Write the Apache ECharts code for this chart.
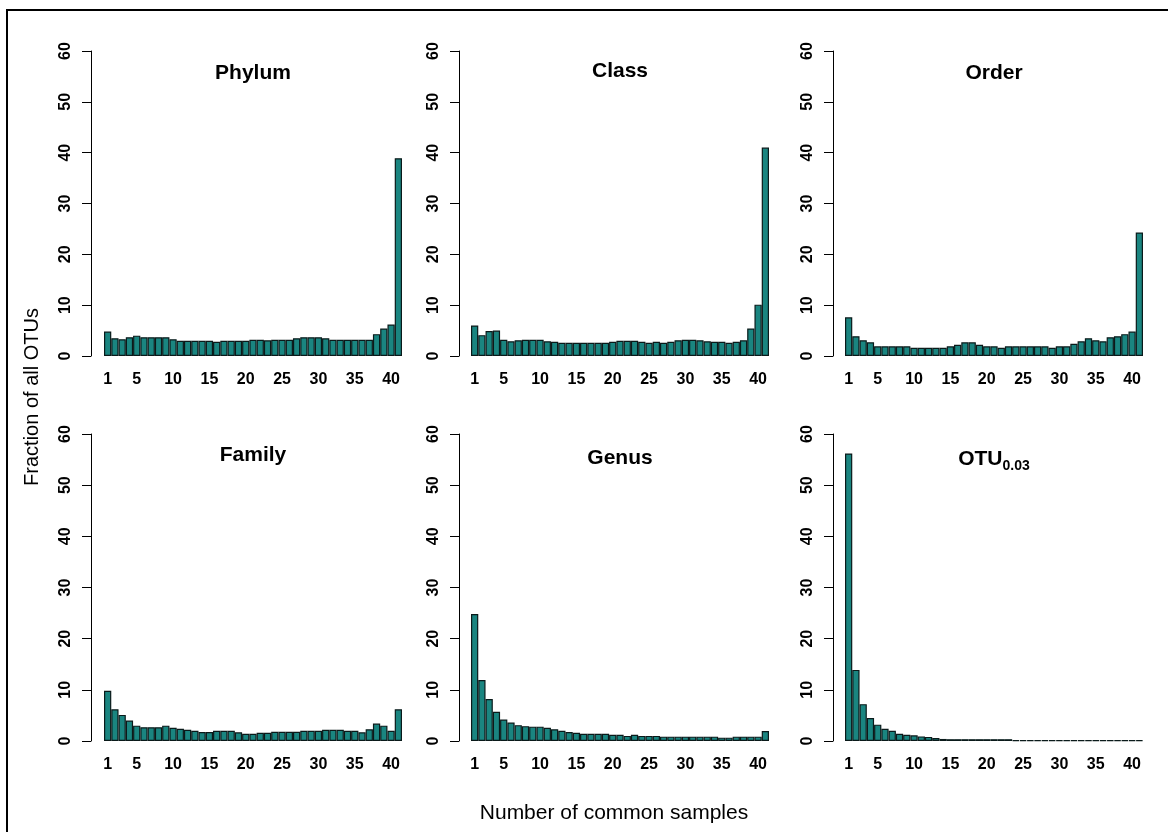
<!DOCTYPE html>
<html><head><meta charset="utf-8">
<script src="https://cdn.jsdelivr.net/npm/echarts@6/dist/echarts.min.js"></script>
<style>html,body{margin:0;padding:0;background:#fff}#c{width:1168px;height:832px}</style>
</head><body><div id="c"></div>
<script>
const categories = ['1','2','3','4','5','6','7','8','9','10','11','12','13','14','15','16','17','18','19','20',
  '21','22','23','24','25','26','27','28','29','30','31','32','33','34','35','36','37','38','39','40','41'];
const tickLabels = ['1','5','10','15','20','25','30','35','40'];
const yMin = 0, yMax = 60, yStep = 10;

const phylum = [4.8,3.5,3.3,3.7,4.0,3.7,3.7,3.7,3.7,3.3,3.0,3.0,3.0,3.0,3.0,2.8,3.0,3.0,3.0,3.0,
  3.2,3.2,3.1,3.2,3.2,3.2,3.5,3.7,3.7,3.7,3.5,3.2,3.2,3.2,3.2,3.2,3.2,4.3,5.4,6.2,38.9];
const classV = [6.0,4.1,4.9,5.0,3.2,2.9,3.1,3.2,3.2,3.2,2.9,2.8,2.6,2.6,2.6,2.6,2.6,2.6,2.6,2.8,
  3.0,3.0,3.0,2.8,2.6,2.8,2.6,2.8,3.1,3.2,3.2,3.1,2.9,2.8,2.8,2.6,2.8,3.1,5.4,10.1,41.0];
const order = [7.6,3.9,3.1,2.7,1.9,1.9,1.9,1.9,1.9,1.6,1.6,1.6,1.6,1.6,1.9,2.2,2.7,2.7,2.2,1.9,
  1.9,1.6,1.9,1.9,1.9,1.9,1.9,1.9,1.6,1.9,1.9,2.4,2.9,3.5,3.1,2.9,3.7,3.9,4.3,4.8,24.3];
const family = [9.8,6.2,5.1,4.0,3.0,2.7,2.7,2.7,3.0,2.6,2.4,2.2,2.0,1.75,1.75,2.0,2.0,2.0,1.7,1.4,
  1.4,1.6,1.6,1.8,1.8,1.8,1.8,2.0,2.0,2.0,2.2,2.2,2.2,2.0,2.0,1.7,2.3,3.4,3.0,2.0,6.2];
const genus = [24.8,11.9,8.2,5.7,4.2,3.6,3.1,2.9,2.8,2.8,2.6,2.3,2.0,1.75,1.6,1.4,1.4,1.4,1.4,1.2,
  1.2,1.0,1.2,1.0,1.0,1.0,0.85,0.85,0.85,0.85,0.85,0.85,0.85,0.85,0.65,0.65,0.85,0.85,0.85,0.85,1.95];
const otu = [56.2,13.9,7.2,4.5,3.2,2.4,2.0,1.4,1.2,1.1,0.9,0.8,0.6,0.4,0.35,0.35,0.35,0.35,0.35,0.35,
  0.35,0.35,0.35,0.15,0.15,0.15,0.15,0.15,0.15,0.15,0.15,0.15,0.15,0.15,0.15,0.15,0.15,0.15,0.15,0.15,0.15];

const FONT = 'Liberation Sans, Arial, Helvetica, sans-serif';
const BAR = '#1a8580';

const panels = [
  {title:'{b|Phylum}', data:phylum, left:104, top:51, height:305, offset:13, ty:73},
  {title:'{b|Class}',  data:classV, left:471, top:51, height:305, offset:12, ty:71},
  {title:'{b|Order}',  data:order,  left:845, top:51, height:305, offset:12, ty:73},
  {title:'{b|Family}', data:family, left:104, top:434, height:307, offset:13, ty:455},
  {title:'{b|Genus}',  data:genus,  left:471, top:434, height:307, offset:12, ty:458},
  {title:'{b|OTU}{s|0.03}', data:otu, left:845, top:434, height:307, offset:12, ty:459}
];
const W = 298;

const grid = [], xAxis = [], yAxis = [], series = [], graphic = [];
graphic.push({type:'rect', shape:{x:7, y:10, width:1200, height:900}, style:{fill:'none', stroke:'#000', lineWidth:2}});
graphic.push({type:'text', x:32, y:397, rotation:Math.PI/2,
  style:{text:'Fraction of all OTUs', font:'20px ' + FONT, fill:'#000', align:'center', verticalAlign:'middle'}});
graphic.push({type:'text', x:614, y:813,
  style:{text:'Number of common samples', font:'21px ' + FONT, fill:'#000', align:'center', verticalAlign:'middle'}});

panels.forEach((p, i) => {
  grid.push({left:p.left, top:p.top, width:W, height:p.height});
  xAxis.push({type:'category', gridIndex:i, data:categories,
    axisLine:{show:false}, axisTick:{show:false}, splitLine:{show:false},
    axisLabel:{interval:0, margin:16, fontSize:16, fontWeight:'bold', color:'#000', fontFamily:FONT,
      formatter: v => tickLabels.indexOf(v) >= 0 ? v : ''}});
  yAxis.push({type:'value', gridIndex:i, min:yMin, max:yMax, interval:yStep, offset:p.offset,
    axisLine:{show:true, lineStyle:{color:'#000', width:1}},
    axisTick:{show:true, length:9, lineStyle:{color:'#000', width:1}},
    splitLine:{show:false},
    axisLabel:{rotate:90, margin:17, fontSize:16, fontWeight:'bold', color:'#000', fontFamily:FONT}});
  series.push({type:'bar', xAxisIndex:i, yAxisIndex:i, data:p.data, barCategoryGap:'0%',
    itemStyle:{color:BAR, borderColor:'#0a1a1a', borderWidth:1.2}, silent:true, animation:false});
  graphic.push({type:'text', x:p.left + W/2, y:p.ty,
    style:{text:p.title, align:'center', verticalAlign:'middle', fill:'#000',
      rich:{b:{font:'bold 21px ' + FONT, fill:'#000'},
            s:{font:'bold 14px ' + FONT, fill:'#000', padding:[15,0,0,0]}}}});
});

const chart = echarts.init(document.getElementById('c'), null, {renderer:'canvas'});
chart.setOption({animation:false, backgroundColor:'#fff', grid, xAxis, yAxis, series, graphic});
</script></body></html>
